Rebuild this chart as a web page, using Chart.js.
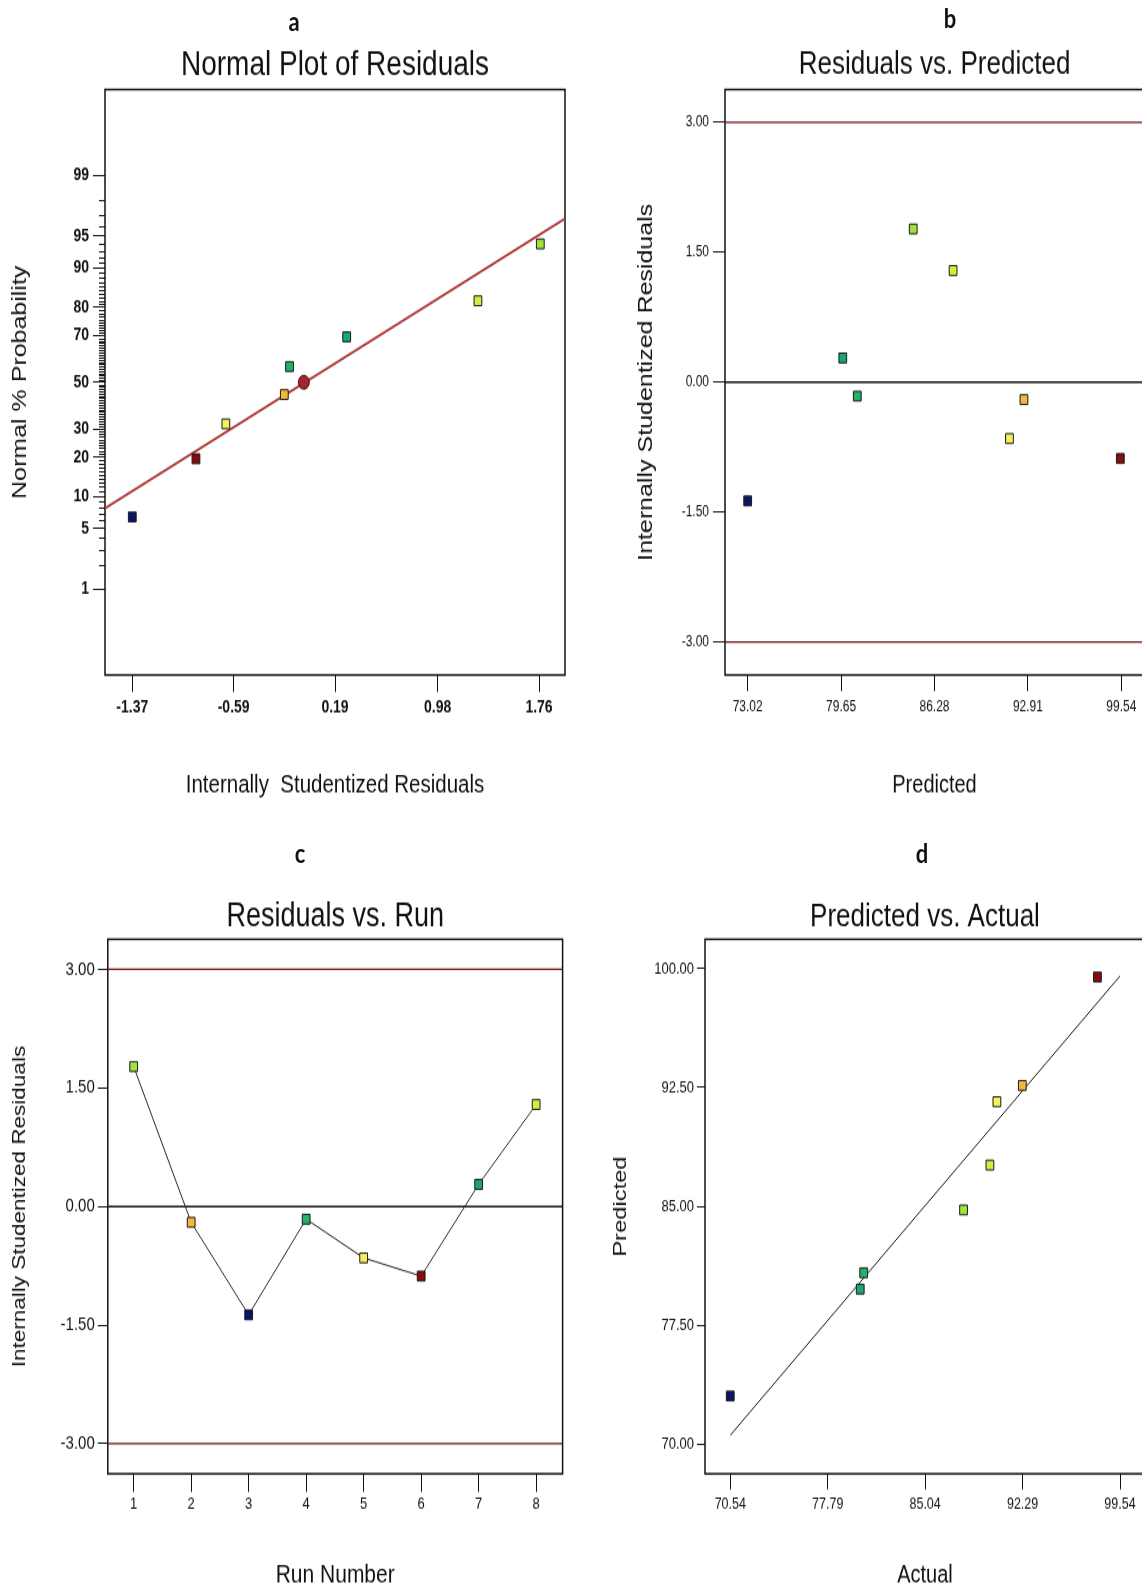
<!DOCTYPE html>
<html>
<head>
<meta charset="utf-8">
<title>Residual diagnostics</title>
<script src="https://cdn.jsdelivr.net/npm/chart.js@4.4.0/dist/chart.umd.min.js"></script>
<style>
  html, body { margin: 0; padding: 0; background: #fff; overflow: hidden; }
  body { width: 1142px; height: 1589px; position: relative; }
  /* the source figure is stretched vertically, so everything is laid out flat and scaled */
  #sheet { position: absolute; left: 0; top: 0; width: 1142px; height: 1272px; transform: scaleY(1.25); transform-origin: 0 0; }
  #sheet canvas { position: absolute; }
  .tag { position: absolute; width: 40px; text-align: center; font: bold 22px Lato, "Liberation Sans", sans-serif; line-height: 22px; color: #111; }
</style>
</head>
<body>
<div id="sheet">
  <div class="tag" style="left:274px; top:6px">a</div>
  <div class="tag" style="left:930px; top:2.5px">b</div>
  <div class="tag" style="left:280px; top:671px">c</div>
  <div class="tag" style="left:902px; top:671px">d</div>
  <canvas id="chartA" width="600" height="650" style="left:0; top:0"></canvas>
  <canvas id="chartB" width="540" height="650" style="left:620px; top:0"></canvas>
  <canvas id="chartC" width="600" height="600" style="left:0; top:680px"></canvas>
  <canvas id="chartD" width="560" height="600" style="left:600px; top:680px"></canvas>
</div>
<script>
// 数据 (按试验序号)
const runNumber = [1, 2, 3, 4, 5, 6, 7, 8];
const residuals = [1.77, -0.20, -1.37, -0.16, -0.65, -0.88, 0.28, 1.29];
const predicted = [84.77, 92.63, 73.02, 80.80, 91.60, 99.47, 79.77, 87.60];
const actual = [87.90, 92.27, 70.54, 80.47, 90.38, 97.86, 80.21, 89.86];
const normalPct = [94.0, 44.5, 6.5, 57.0, 32.0, 19.5, 69.5, 82.0];
const pointColors = ['#a3e23c', '#f4b73a', '#0b1466', '#22b26c', '#f6ef5c', '#860d0d', '#1ca676', '#d3ef3e'];

// 正态概率图的参考线
const fitLineX = [-1.58, 1.96];
const fitLinePct = [7.85, 96.7];
const centerX = [-0.05];
const centerPct = [50];

// 刻度
const residualTicks = [-1.37, -0.59, 0.19, 0.98, 1.76];
const probTicks = [1, 5, 10, 20, 30, 50, 70, 80, 90, 95, 99];
const predictedTicks = [73.02, 79.65, 86.28, 92.91, 99.54];
const studentizedTicks = [-3, -1.5, 0, 1.5, 3];
const actualTicks = [70.54, 77.79, 85.04, 92.29, 99.54];
const predictedAxisTicks = [70, 77.5, 85, 92.5, 100];
const limitLines = [-3, 3];
const unityLine = [70.54, 99.54];

const fontFamily = '"Liberation Sans", Arial, sans-serif';
Chart.defaults.font.family = fontFamily;
Chart.defaults.color = '#111';

// 正态分位数 (Acklam 近似)
function probit(p) {
    const a = [-39.69683028665376, 220.9460984245205, -275.9285104469687, 138.3577518672690, -30.66479806614716, 2.506628277459239];
    const b = [-54.47609879822406, 161.5858368580409, -155.6989798598866, 66.80131188771972, -13.28068155288572];
    const c = [-0.007784894002430293, -0.3223964580411365, -2.400758277161838, -2.549671010228524, 4.374664141464968, 2.938163982698783];
    const d = [0.007784695709041462, 0.3224671290700398, 2.445134137142996, 3.754408661907416];
    const pl = 0.02425;
    let q, r;
    if (p < pl) {
        q = Math.sqrt(-2 * Math.log(p));
        return (((((c[0] * q + c[1]) * q + c[2]) * q + c[3]) * q + c[4]) * q + c[5]) / ((((d[0] * q + d[1]) * q + d[2]) * q + d[3]) * q + 1);
    }
    if (p > 1 - pl) {
        q = Math.sqrt(-2 * Math.log(1 - p));
        return -(((((c[0] * q + c[1]) * q + c[2]) * q + c[3]) * q + c[4]) * q + c[5]) / ((((d[0] * q + d[1]) * q + d[2]) * q + d[3]) * q + 1);
    }
    q = p - 0.5;
    r = q * q;
    return (((((a[0] * r + a[1]) * r + a[2]) * r + a[3]) * r + a[4]) * r + a[5]) * q / (((((b[0] * r + b[1]) * r + b[2]) * r + b[3]) * r + b[4]) * r + 1);
}

// 图框
const framePlugin = {
    id: 'frame',
    beforeDatasetsDraw(chart) {
        const { ctx, chartArea: ca } = chart;
        ctx.save();
        ctx.strokeStyle = '#111';
        ctx.lineWidth = 1.5;
        ctx.strokeRect(ca.left, ca.top, ca.right - ca.left, ca.bottom - ca.top);
        ctx.restore();
    }
};

// 概率轴的小刻度
const minorTickPlugin = {
    id: 'minorTicks',
    afterDraw(chart) {
        const y = chart.scales.y;
        const left = chart.chartArea.left;
        const ctx = chart.ctx;
        ctx.save();
        ctx.strokeStyle = '#111';
        ctx.lineWidth = 1;
        ctx.beginPath();
        for (let p = 2; p <= 98; p++) {
            if (probTicks.includes(p)) continue;
            const py = Math.round(y.getPixelForValue(probit(p / 100))) + 0.5;
            ctx.moveTo(left - 6, py);
            ctx.lineTo(left, py);
        }
        ctx.stroke();
        ctx.restore();
    }
};

function makeScale(o) {
    const isLeft = o.position === 'left';
    return {
        type: 'linear',
        position: o.position,
        min: o.min,
        max: o.max,
        afterBuildTicks: s => { s.ticks = o.ticks.map(v => ({ value: v })); },
        afterFit: s => { if (isLeft) s.width = o.size; else s.height = o.size; },
        grid: { drawOnChartArea: false, drawTicks: true, tickLength: o.tickLength, tickColor: '#111', tickWidth: 1 },
        border: { display: false },
        ticks: {
            autoSkip: false, maxRotation: 0, padding: o.tickPad, color: '#111',
            font: { size: o.tickSize, weight: o.tickWeight || 'normal' },
            callback: o.format
        },
        title: {
            display: true, text: o.title, color: '#111',
            font: { size: o.titleSize },
            padding: isLeft ? { top: o.titlePad, bottom: 0 } : { top: 0, bottom: o.titlePad }
        }
    };
}

function pointSet(xs, ys) {
    return {
        data: xs.map((x, i) => ({ x: x, y: ys[i] })),
        pointStyle: 'rect',
        pointRadius: 5.5,
        pointBackgroundColor: pointColors,
        pointBorderColor: '#1a1a1a',
        pointBorderWidth: 1,
        showLine: false
    };
}

function lineSet(points, color, width) {
    return {
        data: points,
        showLine: true,
        borderColor: color,
        borderWidth: width,
        pointRadius: 0
    };
}

function baseOptions(title, titleSize, titlePad, padRight, scales) {
    return {
        responsive: false,
        animation: false,
        events: [],
        layout: { padding: { left: 0, right: padRight, top: 0, bottom: 0 } },
        plugins: {
            legend: { display: false },
            tooltip: { enabled: false },
            title: {
                display: true, text: title, fullSize: false, color: '#111',
                font: { size: titleSize, weight: 'normal' },
                padding: titlePad
            }
        },
        scales: scales
    };
}

const limitColor = '#6b1212';

// a: 残差正态概率图
const zMin = -3.29, zMax = 3.29;
const xA = [-1.58, 1.96];
new Chart(document.getElementById('chartA'), {
    type: 'scatter',
    data: {
        datasets: [
            pointSet(residuals, normalPct.map(p => probit(p / 100))),
            {
                data: centerX.map((x, i) => ({ x: x, y: probit(centerPct[i] / 100) })),
                pointStyle: 'circle', pointRadius: 5.5,
                pointBackgroundColor: '#a3262f', pointBorderColor: '#4a0c0c', pointBorderWidth: 1
            },
            lineSet(fitLineX.map((x, i) => ({ x: x, y: probit(fitLinePct[i] / 100) })), '#b03c3c', 2)
        ]
    },
    options: baseOptions('Normal Plot of Residuals', 28, { top: 35.2, bottom: 2.8 }, 35, {
        x: makeScale({ position: 'bottom', min: xA[0], max: xA[1], ticks: residualTicks, size: 110,
            tickLength: 13.6, tickPad: 4.5, tickSize: 14, tickWeight: 'bold', format: v => v.toFixed(2),
            title: 'Internally  Studentized Residuals', titleSize: 20.5, titlePad: 9.7 }),
        y: makeScale({ position: 'left', min: zMin, max: zMax, ticks: probTicks.map(p => probit(p / 100)), size: 105,
            tickLength: 12, tickPad: 4, tickSize: 14, tickWeight: 'bold', format: (v, i) => String(probTicks[i]),
            title: 'Normal % Probability', titleSize: 20, titlePad: 8.4 })
    }),
    plugins: [framePlugin, minorTickPlugin]
});

// b: 残差 vs 预测值
const xB = [71.41, 101.15];
new Chart(document.getElementById('chartB'), {
    type: 'scatter',
    data: {
        datasets: [
            pointSet(predicted, residuals),
            lineSet([{ x: xB[0], y: 0 }, { x: xB[1], y: 0 }], '#111', 1.5),
            ...limitLines.map(v => lineSet([{ x: xB[0], y: v }, { x: xB[1], y: v }], limitColor, 1.2))
        ]
    },
    options: baseOptions('Residuals vs. Predicted', 26, { top: 36.4, bottom: 4 }, 16, {
        x: makeScale({ position: 'bottom', min: xB[0], max: xB[1], ticks: predictedTicks, size: 110,
            tickLength: 12.9, tickPad: 5.5, tickSize: 12, format: v => v.toFixed(2),
            title: 'Predicted', titleSize: 20, titlePad: 9.2 }),
        y: makeScale({ position: 'left', min: -3.38, max: 3.38, ticks: studentizedTicks, size: 105,
            tickLength: 12, tickPad: 4, tickSize: 12, format: v => v.toFixed(2),
            title: 'Internally Studentized Residuals', titleSize: 20, titlePad: 14.7 })
    }),
    plugins: [framePlugin]
});

// c: 残差 vs 试验序号
const xC = [0.55, 8.46];
new Chart(document.getElementById('chartC'), {
    type: 'scatter',
    data: {
        datasets: [
            pointSet(runNumber, residuals),
            lineSet(runNumber.map((r, i) => ({ x: r, y: residuals[i] })), '#222', 1),
            lineSet([{ x: xC[0], y: 0 }, { x: xC[1], y: 0 }], '#111', 1.5),
            ...limitLines.map(v => lineSet([{ x: xC[0], y: v }, { x: xC[1], y: v }], limitColor, 1.2))
        ]
    },
    options: baseOptions('Residuals vs. Run', 27, { top: 37.4, bottom: 1.6 }, 37.4, {
        x: makeScale({ position: 'bottom', min: xC[0], max: xC[1], ticks: runNumber, size: 101,
            tickLength: 14.5, tickPad: 1.9, tickSize: 13, format: v => String(v),
            title: 'Run Number', titleSize: 21, titlePad: 7.4 }),
        y: makeScale({ position: 'left', min: -3.38, max: 3.38, ticks: studentizedTicks, size: 107.8,
            tickLength: 10, tickPad: 3, tickSize: 15, format: v => v.toFixed(2),
            title: 'Internally Studentized Residuals', titleSize: 18, titlePad: 9.6 })
    }),
    plugins: [framePlugin]
});

// d: 预测值 vs 实际值
new Chart(document.getElementById('chartD'), {
    type: 'scatter',
    data: {
        datasets: [
            pointSet(actual, predicted),
            lineSet(unityLine.map(v => ({ x: v, y: v })), '#111', 1)
        ]
    },
    options: baseOptions('Predicted vs. Actual', 26, { top: 38, bottom: 2.2 }, 15, {
        x: makeScale({ position: 'bottom', min: 68.66, max: 101.4, ticks: actualTicks, size: 101,
            tickLength: 12.6, tickPad: 4.4, tickSize: 12.5, format: v => v.toFixed(2),
            title: 'Actual', titleSize: 20, titlePad: 8 }),
        y: makeScale({ position: 'left', min: 68.11, max: 101.86, ticks: predictedAxisTicks, size: 105,
            tickLength: 8, tickPad: 3, tickSize: 13, format: v => v.toFixed(2),
            title: 'Predicted', titleSize: 19, titlePad: 9.4 })
    }),
    plugins: [framePlugin]
});
</script>
</body>
</html>
